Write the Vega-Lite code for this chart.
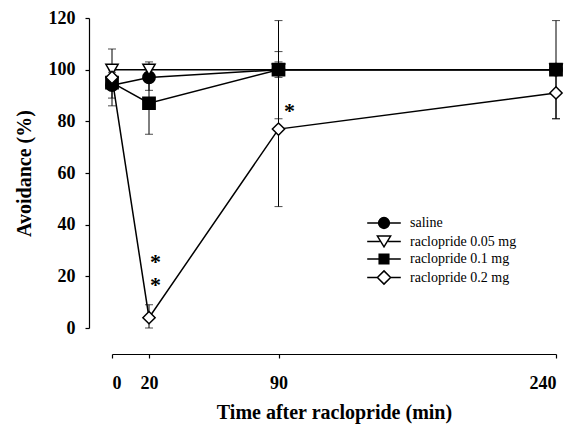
{
  "$schema": "https://vega.github.io/schema/vega-lite/v6.json",
  "autosize": "none",
  "width": 444,
  "height": 310,
  "padding": {"left": 112, "top": 18, "right": 14, "bottom": 98},
  "background": "white",
  "config": {
    "view": {"stroke": null},
    "font": "Liberation Serif",
    "axis": {"grid": false, "domainColor": "black", "tickColor": "black", "labelColor": "black", "titleColor": "black", "domainWidth": 1.2, "tickWidth": 1.2},
    "legend": {"symbolStrokeColor": "black", "symbolStrokeWidth": 1.5}
  },
  "resolve": {"scale": {"shape": "independent", "fill": "independent", "stroke": "independent"}, "legend": {"shape": "independent", "fill": "independent", "stroke": "independent"}},
  "datasets": {
    "pts": [
      {"group": "saline", "t": 0, "v": 94, "lo": 89, "hi": 99},
      {"group": "saline", "t": 20, "v": 97, "lo": 92, "hi": 102},
      {"group": "saline", "t": 90, "v": 100, "lo": 97, "hi": 103},
      {"group": "saline", "t": 240, "v": 100, "lo": 100, "hi": 100},
      {"group": "raclopride 0.05 mg", "t": 0, "v": 100, "lo": 100, "hi": 100},
      {"group": "raclopride 0.05 mg", "t": 20, "v": 100, "lo": 97, "hi": 103},
      {"group": "raclopride 0.05 mg", "t": 90, "v": 100, "lo": 100, "hi": 100},
      {"group": "raclopride 0.05 mg", "t": 240, "v": 100, "lo": 100, "hi": 100},
      {"group": "raclopride 0.1 mg", "t": 0, "v": 95, "lo": 95, "hi": 95},
      {"group": "raclopride 0.1 mg", "t": 20, "v": 87, "lo": 75, "hi": 99},
      {"group": "raclopride 0.1 mg", "t": 90, "v": 100, "lo": 81, "hi": 119},
      {"group": "raclopride 0.1 mg", "t": 240, "v": 100, "lo": 81, "hi": 119},
      {"group": "raclopride 0.2 mg", "t": 0, "v": 97, "lo": 86, "hi": 108},
      {"group": "raclopride 0.2 mg", "t": 20, "v": 4, "lo": 0, "hi": 9},
      {"group": "raclopride 0.2 mg", "t": 90, "v": 77, "lo": 47, "hi": 107},
      {"group": "raclopride 0.2 mg", "t": 240, "v": 91, "lo": 81, "hi": 101}
    ],
    "stars": [
      {"t": 23.5, "v": 25.5, "label": "*"},
      {"t": 23.5, "v": 16.5, "label": "*"},
      {"t": 96, "v": 84, "label": "*"}
    ]
  },
  "layer": [
    {
      "data": {"name": "pts"},
      "mark": {"type": "line", "color": "black", "strokeWidth": 1.5},
      "encoding": {
        "x": {
          "field": "t", "type": "quantitative",
          "scale": {"domain": [0, 240], "nice": false},
          "axis": {
            "values": [0, 20, 90, 240], "offset": 26, "tickSize": 4,
            "labelFont": "Liberation Serif", "labelFontWeight": "bold", "labelFontSize": 18, "labelPadding": 16,
            "title": "Time after raclopride (min)", "titleFont": "Liberation Serif", "titleFontWeight": "bold", "titleFontSize": 20, "titlePadding": 10
          }
        },
        "y": {
          "field": "v", "type": "quantitative",
          "scale": {"domain": [0, 120], "nice": false},
          "axis": {
            "values": [0, 20, 40, 60, 80, 100, 120], "offset": 23, "tickSize": 4,
            "labelFont": "Liberation Serif", "labelFontWeight": "bold", "labelFontSize": 18, "labelPadding": 10,
            "title": "Avoidance (%)", "titleFont": "Liberation Serif", "titleFontWeight": "bold", "titleFontSize": 20, "titlePadding": 14
          }
        },
        "detail": {"field": "group"}
      }
    },
    {
      "data": {"name": "pts"},
      "mark": {"type": "rule", "color": "black", "strokeWidth": 1},
      "encoding": {
        "x": {"field": "t", "type": "quantitative"},
        "y": {"field": "lo", "type": "quantitative"},
        "y2": {"field": "hi"}
      }
    },
    {
      "data": {"name": "pts"},
      "mark": {"type": "tick", "orient": "horizontal", "color": "black", "size": 8, "thickness": 1},
      "encoding": {
        "x": {"field": "t", "type": "quantitative"},
        "y": {"field": "lo", "type": "quantitative"}
      }
    },
    {
      "data": {"name": "pts"},
      "mark": {"type": "tick", "orient": "horizontal", "color": "black", "size": 8, "thickness": 1},
      "encoding": {
        "x": {"field": "t", "type": "quantitative"},
        "y": {"field": "hi", "type": "quantitative"}
      }
    },
    {
      "data": {"name": "pts"},
      "mark": {"type": "point", "filled": false, "stroke": "black", "strokeWidth": 1.5, "opacity": 1, "size": 150},
      "encoding": {
        "x": {"field": "t", "type": "quantitative"},
        "y": {"field": "v", "type": "quantitative"},
        "shape": {
          "field": "group", "type": "nominal",
          "scale": {"domain": ["saline", "raclopride 0.05 mg", "raclopride 0.1 mg", "raclopride 0.2 mg"], "range": ["circle", "triangle-down", "square", "diamond"]},
          "legend": null
        },
        "fill": {
          "field": "group", "type": "nominal",
          "scale": {"domain": ["saline", "raclopride 0.05 mg", "raclopride 0.1 mg", "raclopride 0.2 mg"], "range": ["black", "white", "black", "white"]},
          "legend": null
        }
      }
    },
    {
      "data": {"name": "pts"},
      "transform": [{"filter": "false"}],
      "mark": {"type": "point", "filled": false, "stroke": "black", "strokeWidth": 1.5, "opacity": 1},
      "encoding": {
        "x": {"field": "t", "type": "quantitative"},
        "y": {"field": "v", "type": "quantitative"},
        "shape": {
          "field": "group", "type": "nominal",
          "scale": {"domain": ["saline", "raclopride 0.05 mg", "raclopride 0.1 mg", "raclopride 0.2 mg"], "range": [
            "M-2.8,0H-0.9M0.9,0H2.8M-0.9,0A0.9,0.9,0,1,0,0.9,0A0.9,0.9,0,1,0,-0.9,0Z",
            "M-2.8,0H-0.7M0.7,0H2.8M-1.1,-0.9L1.1,-0.9L0,0.9Z",
            "M-2.8,0H-0.8M0.8,0H2.8M-0.8,-0.8H0.8V0.8H-0.8Z",
            "M-2.8,0H-1.1M1.1,0H2.8M0,-1.1L1.1,0L0,1.1L-1.1,0Z"
          ]},
          "legend": {
            "title": null, "orient": "none", "legendX": 265, "legendY": 198,
            "padding": 0, "symbolSize": 144, "labelOffset": 19, "rowPadding": 0.5,
            "labelFont": "Liberation Serif", "labelFontSize": 14, "labelColor": "black",
            "symbolStrokeWidth": 1.5, "symbolOpacity": 1, "symbolStrokeColor": "black"
          }
        },
        "fill": {
          "field": "group", "type": "nominal",
          "scale": {"domain": ["saline", "raclopride 0.05 mg", "raclopride 0.1 mg", "raclopride 0.2 mg"], "range": ["black", "white", "black", "white"]},
          "legend": null
        },
        "stroke": {
          "field": "group", "type": "nominal",
          "scale": {"domain": ["saline", "raclopride 0.05 mg", "raclopride 0.1 mg", "raclopride 0.2 mg"], "range": ["black", "black", "black", "black"]},
          "legend": null
        }
      }
    },
    {
      "data": {"name": "stars"},
      "mark": {"type": "text", "font": "Liberation Serif", "fontWeight": "bold", "fontSize": 22, "baseline": "middle", "align": "center", "color": "black"},
      "encoding": {
        "x": {"field": "t", "type": "quantitative"},
        "y": {"field": "v", "type": "quantitative"},
        "text": {"field": "label"}
      }
    }
  ]
}
